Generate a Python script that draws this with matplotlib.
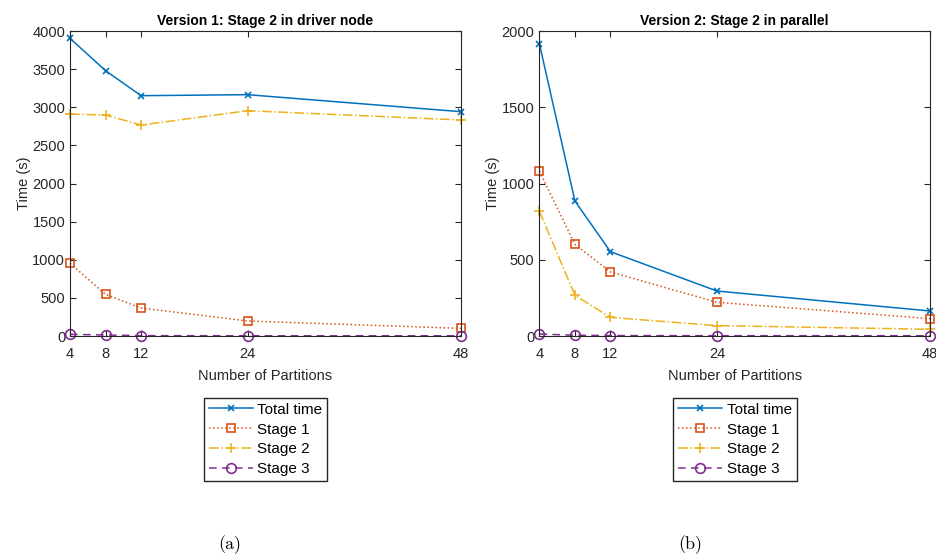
import matplotlib
matplotlib.use('Agg')
import matplotlib.pyplot as plt

# data
partitions = [4, 8, 12, 24, 48]

v1_total = [3904, 3480, 3152, 3165, 2942]
v1_stage1 = [953, 546, 367, 197, 100]
v1_stage2 = [2911, 2898, 2767, 2955, 2833]
v1_stage3 = [22, 13, 5, 3, 3]

v2_total = [1915, 885, 553, 295, 164]
v2_stage1 = [1080, 601, 420, 221, 114]
v2_stage2 = [817, 267, 122, 68, 44]
v2_stage3 = [13, 5, 3, 2, 2]

titles = ['Version 1: Stage 2 in driver node', 'Version 2: Stage 2 in parallel']
sub_labels = ['(a)', '(b)']
series_names = ['Total time', 'Stage 1', 'Stage 2', 'Stage 3']

colors = ['#0072BD', '#D95319', '#EDB120', '#7E2F8E']
styles = ['-', ':', '-.', (0, (5, 3.5))]
markers = ['x', 's', '+', 'o']
msizes = [5, 6, 7, 7]

plt.rcParams['font.family'] = ['Liberation Sans', 'DejaVu Sans']
plt.rcParams['font.size'] = 10
dark = '#262626'

fig = plt.figure(figsize=(9.37, 5.6), dpi=100)
ax1 = fig.add_axes([0.0747, 0.400, 0.4173, 0.5446])
ax2 = fig.add_axes([0.5757, 0.400, 0.4168, 0.5446])

datasets = [
    [v1_total, v1_stage1, v1_stage2, v1_stage3],
    [v2_total, v2_stage1, v2_stage2, v2_stage3],
]
ylims = [(0, 4000), (0, 2000)]
yticks = [range(0, 4001, 500), range(0, 2001, 500)]
leg_x = [0.2177, 0.7187]
lab_x = [0.2455, 0.7365]

for ax, data, title, ylim, yt, lx, sx, sl in zip([ax1, ax2], datasets, titles, ylims, yticks, leg_x, lab_x, sub_labels):
    for vals, c, ls, m, ms, name in zip(data, colors, styles, markers, msizes, series_names):
        ax.plot(partitions, vals, color=c, linestyle=ls, marker=m, markersize=ms,
                markerfacecolor='none', markeredgewidth=1.2, linewidth=1.1, label=name, clip_on=False)
    ax.set_xlim(4, 48)
    ax.set_ylim(*ylim)
    ax.set_xticks(partitions)
    ax.set_yticks(list(yt))
    ax.tick_params(direction='in', top=True, right=True, length=4, colors=dark, labelsize=10.5)
    ax.tick_params(axis='x', pad=8)
    for s in ax.spines.values():
        s.set_color(dark)
        s.set_linewidth(0.8)
    ax.set_title(title, fontweight='bold', fontsize=10, pad=4)
    ax.set_xlabel('Number of Partitions', fontsize=10.5, color=dark, labelpad=6)
    ax.set_ylabel('Time (s)', fontsize=10.5, color=dark, labelpad=1)
    handles, labels = ax.get_legend_handles_labels()
    fig.legend(handles, labels, loc='upper left', bbox_to_anchor=(lx, 0.289), fontsize=11,
               frameon=True, fancybox=False, edgecolor=dark, framealpha=1,
               handlelength=2.9, handletextpad=0.3, labelspacing=0.38, borderpad=0.3,
               borderaxespad=0)
    fig.text(sx, 0.027, sl, fontfamily='cmr10', fontsize=13, ha='center', va='center')

fig.savefig('out.png', dpi=100)
